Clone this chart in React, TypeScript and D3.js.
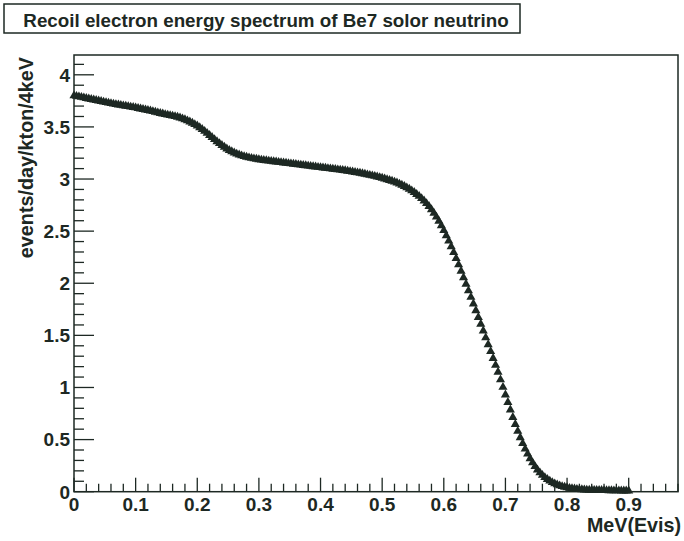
import React, { useRef, useEffect } from 'react';
import * as d3 from 'd3';

const title = 'Recoil electron energy spectrum of Be7 solor neutrino';
const xTitle = 'MeV(Evis)';
const yTitle = 'events/day/kton/4keV';

// 4 keV bins starting at 0 MeV
const binWidth = 0.004;
const rate = [
  3.800, 3.795, 3.790, 3.785, 3.780, 3.775, 3.770, 3.765, 3.760, 3.755,
  3.750, 3.745, 3.740, 3.735, 3.730, 3.725, 3.720, 3.716, 3.712, 3.708,
  3.704, 3.700, 3.696, 3.692, 3.688, 3.684, 3.679, 3.674, 3.669, 3.664,
  3.659, 3.654, 3.648, 3.642, 3.636, 3.630, 3.625, 3.620, 3.615, 3.610,
  3.605, 3.600, 3.594, 3.587, 3.579, 3.570, 3.560, 3.549, 3.537, 3.524,
  3.510, 3.494, 3.477, 3.459, 3.440, 3.420, 3.400, 3.380, 3.360, 3.341,
  3.323, 3.306, 3.290, 3.276, 3.263, 3.251, 3.241, 3.232, 3.224, 3.217,
  3.211, 3.205, 3.200, 3.195, 3.191, 3.187, 3.183, 3.180, 3.177, 3.174,
  3.171, 3.168, 3.165, 3.162, 3.159, 3.156, 3.153, 3.150, 3.147, 3.144,
  3.141, 3.138, 3.135, 3.132, 3.129, 3.126, 3.123, 3.120, 3.117, 3.114,
  3.111, 3.108, 3.105, 3.102, 3.099, 3.096, 3.093, 3.090, 3.087, 3.084,
  3.081, 3.077, 3.073, 3.069, 3.065, 3.061, 3.057, 3.052, 3.047, 3.042,
  3.037, 3.032, 3.027, 3.021, 3.015, 3.009, 3.002, 2.995, 2.988, 2.980,
  2.972, 2.963, 2.953, 2.942, 2.930, 2.917, 2.903, 2.888, 2.872, 2.854,
  2.835, 2.814, 2.791, 2.766, 2.738, 2.707, 2.673, 2.636, 2.596, 2.553,
  2.507, 2.458, 2.406, 2.352, 2.296, 2.238, 2.178, 2.117, 2.055, 1.992,
  1.929, 1.866, 1.802, 1.738, 1.673, 1.608, 1.543, 1.478, 1.412, 1.346,
  1.280, 1.214, 1.148, 1.075, 1.003, 0.930, 0.857, 0.785, 0.714, 0.646,
  0.581, 0.520, 0.463, 0.410, 0.362, 0.318, 0.278, 0.242, 0.210, 0.182,
  0.158, 0.137, 0.119, 0.103, 0.089, 0.077, 0.067, 0.058, 0.050, 0.044,
  0.039, 0.034, 0.030, 0.027, 0.024, 0.022, 0.020, 0.018, 0.017, 0.016,
  0.015, 0.014, 0.014, 0.013, 0.013, 0.012, 0.012, 0.011, 0.011, 0.010,
  0.010, 0.010, 0.009, 0.009, 0.009, 0.009,
];

const xTicks = [0, 0.1, 0.2, 0.3, 0.4, 0.5, 0.6, 0.7, 0.8, 0.9];
const yTicks = [0, 0.5, 1, 1.5, 2, 2.5, 3, 3.5, 4];

const W = 684, H = 541;
const ink = '#1d2823';
const font = '"Liberation Sans", Arial, Helvetica, sans-serif';

export default function App() {
  const svgRef = useRef<SVGSVGElement>(null);

  useEffect(() => {
    const svg = d3.select(svgRef.current);
    svg.selectAll('*').remove();

    const left = 74, right = 678, top = 55, bottom = 491.7;
    const x = d3.scaleLinear().domain([0, 0.98]).range([left, right]);
    const y = d3.scaleLinear().domain([0, 4.19]).range([bottom, top]);

    svg.append('rect').attr('width', W).attr('height', H).attr('fill', '#fff');

    // title box
    svg.append('rect')
      .attr('x', 4).attr('y', 4).attr('width', 516).attr('height', 29)
      .attr('fill', '#fff').attr('stroke', ink).attr('stroke-width', 1.5);
    svg.append('text')
      .attr('x', 266).attr('y', 26.5)
      .attr('text-anchor', 'middle')
      .attr('font-family', font).attr('font-weight', 'bold').attr('font-size', 18.8)
      .attr('fill', ink)
      .text(title);

    // frame
    svg.append('rect')
      .attr('x', left).attr('y', top)
      .attr('width', right - left).attr('height', bottom - top)
      .attr('fill', 'none').attr('stroke', ink).attr('stroke-width', 1.5);

    // x ticks
    const xMinor = d3.range(0, 0.981, 0.02);
    svg.append('g').selectAll('line').data(xMinor).join('line')
      .attr('x1', d => x(d)).attr('x2', d => x(d))
      .attr('y1', bottom).attr('y2', d => bottom - (Math.abs(d * 10 - Math.round(d * 10)) < 1e-6 ? 14 : 8))
      .attr('stroke', ink).attr('stroke-width', 1.3);
    svg.append('g').selectAll('text').data(xTicks).join('text')
      .attr('x', d => x(d)).attr('y', 511)
      .attr('text-anchor', 'middle')
      .attr('font-family', font).attr('font-weight', 'bold').attr('font-size', 19)
      .attr('fill', ink)
      .text(d => d3.format('~g')(d));

    // y ticks
    const yMinor = d3.range(0, 4.19, 0.1);
    svg.append('g').selectAll('line').data(yMinor).join('line')
      .attr('y1', d => y(d)).attr('y2', d => y(d))
      .attr('x1', left).attr('x2', d => left + (Math.abs(d * 2 - Math.round(d * 2)) < 1e-6 ? 20 : 10))
      .attr('stroke', ink).attr('stroke-width', 1.3);
    svg.append('g').selectAll('text').data(yTicks).join('text')
      .attr('x', 70).attr('y', d => y(d) + 6.8)
      .attr('text-anchor', 'end')
      .attr('font-family', font).attr('font-weight', 'bold').attr('font-size', 19)
      .attr('fill', ink)
      .text(d => d3.format('~g')(d));

    // axis titles
    svg.append('text')
      .attr('x', 681).attr('y', 532)
      .attr('text-anchor', 'end')
      .attr('font-family', font).attr('font-weight', 'bold').attr('font-size', 19.7)
      .attr('fill', ink)
      .text(xTitle);
    svg.append('text')
      .attr('transform', 'translate(33,57) rotate(-90)')
      .attr('text-anchor', 'end')
      .attr('font-family', font).attr('font-weight', 'bold').attr('font-size', 19.8)
      .attr('fill', ink)
      .text(yTitle);

    // markers
    const tri = d3.symbol().type(d3.symbolTriangle).size(36);
    svg.append('g').selectAll('path').data(rate).join('path')
      .attr('transform', (d, i) => `translate(${x(i * binWidth)},${y(d)})`)
      .attr('d', tri)
      .attr('fill', ink);
  }, []);

  return <svg ref={svgRef} width={W} height={H} style={{ position: 'absolute', left: 0, top: 0 }} />;
}
